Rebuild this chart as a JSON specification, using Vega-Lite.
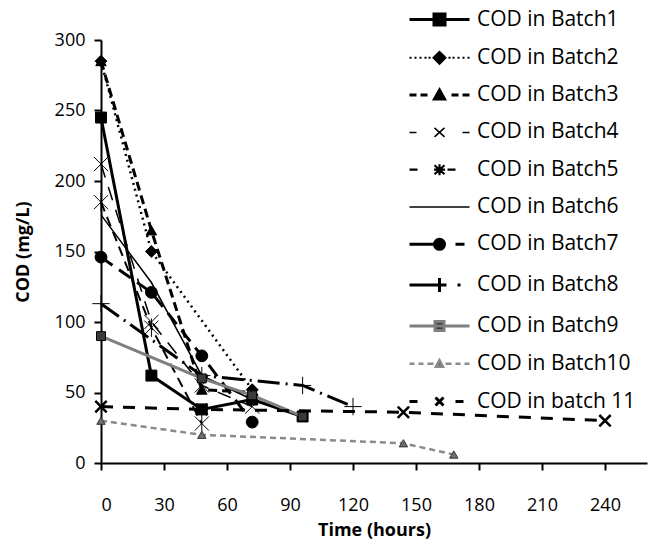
{
  "$schema": "https://vega.github.io/schema/vega-lite/v6.json",
  "width": 546,
  "height": 423,
  "autosize": "none",
  "padding": {"left": 101, "top": 40, "right": 2, "bottom": 81},
  "background": "white",
  "config": {
    "font": "Open Sans",
    "view": {"stroke": null},
    "axis": {"domainColor": "black", "domainWidth": 2, "tickColor": "black", "tickWidth": 2, "tickSize": 7, "labelColor": "black", "titleColor": "black", "grid": false, "labelFontSize": 18, "titleFontSize": 18, "titleFontWeight": "bold", "labelFont": "Open Sans", "titleFont": "Open Sans"},
    "legend": {"orient": "none", "legendX": 309, "legendY": -32, "symbolSize": 400, "labelFontSize": 21, "labelFont": "Open Sans", "labelColor": "black", "rowPadding": 15.8, "symbolOffset": 18, "labelOffset": 26, "padding": 0, "symbolOpacity": 1}
  },
  "datasets": {
    "cod": [
      {"batch": "COD in Batch1", "t": 0, "cod": 245},
      {"batch": "COD in Batch1", "t": 24, "cod": 62},
      {"batch": "COD in Batch1", "t": 48, "cod": 38},
      {"batch": "COD in Batch1", "t": 72, "cod": 45},
      {"batch": "COD in Batch1", "t": 96, "cod": 33},
      {"batch": "COD in Batch2", "t": 0, "cod": 285},
      {"batch": "COD in Batch2", "t": 24, "cod": 150},
      {"batch": "COD in Batch2", "t": 72, "cod": 52},
      {"batch": "COD in Batch3", "t": 0, "cod": 285},
      {"batch": "COD in Batch3", "t": 24, "cod": 165},
      {"batch": "COD in Batch3", "t": 48, "cod": 52},
      {"batch": "COD in Batch3", "t": 72, "cod": 50},
      {"batch": "COD in Batch4", "t": 0, "cod": 212},
      {"batch": "COD in Batch4", "t": 24, "cod": 100},
      {"batch": "COD in Batch4", "t": 48, "cod": 55},
      {"batch": "COD in Batch4", "t": 72, "cod": 40},
      {"batch": "COD in Batch5", "t": 0, "cod": 185},
      {"batch": "COD in Batch5", "t": 24, "cod": 96},
      {"batch": "COD in Batch5", "t": 48, "cod": 28},
      {"batch": "COD in Batch6", "t": 0, "cod": 176},
      {"batch": "COD in Batch6", "t": 24, "cod": 128},
      {"batch": "COD in Batch6", "t": 48, "cod": 62},
      {"batch": "COD in Batch6", "t": 72, "cod": 45},
      {"batch": "COD in Batch7", "t": 0, "cod": 146},
      {"batch": "COD in Batch7", "t": 24, "cod": 121},
      {"batch": "COD in Batch7", "t": 48, "cod": 76},
      {"batch": "COD in Batch7", "t": 72, "cod": 29},
      {"batch": "COD in Batch8", "t": 0, "cod": 113},
      {"batch": "COD in Batch8", "t": 48, "cod": 62},
      {"batch": "COD in Batch8", "t": 96, "cod": 55},
      {"batch": "COD in Batch8", "t": 120, "cod": 40},
      {"batch": "COD in Batch9", "t": 0, "cod": 90},
      {"batch": "COD in Batch9", "t": 48, "cod": 60},
      {"batch": "COD in Batch9", "t": 72, "cod": 48},
      {"batch": "COD in Batch9", "t": 96, "cod": 33},
      {"batch": "COD in Batch10", "t": 0, "cod": 30},
      {"batch": "COD in Batch10", "t": 48, "cod": 20},
      {"batch": "COD in Batch10", "t": 144, "cod": 14},
      {"batch": "COD in Batch10", "t": 168, "cod": 6},
      {"batch": "COD in batch 11", "t": 0, "cod": 40},
      {"batch": "COD in batch 11", "t": 48, "cod": 38},
      {"batch": "COD in batch 11", "t": 144, "cod": 36},
      {"batch": "COD in batch 11", "t": 240, "cod": 30}
    ]
  },
  "data": {"name": "cod"},
  "encoding": {
    "x": {"field": "t", "type": "quantitative", "scale": {"domain": [0, 260], "nice": false}, "axis": {"values": [0, 30, 60, 90, 120, 150, 180, 210, 240], "title": "Time (hours)", "labelPadding": 26, "titlePadding": 7}},
    "y": {"field": "cod", "type": "quantitative", "scale": {"domain": [0, 300], "nice": false}, "axis": {"values": [0, 50, 100, 150, 200, 250, 300], "title": "COD (mg/L)", "labelPadding": 9, "titlePadding": 22}}
  },
  "layer": [
    {
      "transform": [{"filter": {"field": "batch", "equal": "COD in Batch1"}}],
      "mark": {"type": "line", "stroke": "black", "strokeWidth": 3, "point": {"shape": "square", "filled": true, "size": 120, "fill": "black", "stroke": "black", "strokeWidth": 1}}
    },
    {
      "transform": [{"filter": {"field": "batch", "equal": "COD in Batch2"}}],
      "mark": {"type": "line", "stroke": "black", "strokeWidth": 2.5, "strokeDash": [2, 4], "point": {"shape": "diamond", "filled": true, "size": 140, "fill": "black", "stroke": "black", "strokeWidth": 1}}
    },
    {
      "transform": [{"filter": {"field": "batch", "equal": "COD in Batch3"}}],
      "mark": {"type": "line", "stroke": "black", "strokeWidth": 3, "strokeDash": [9, 5], "point": {"shape": "triangle-up", "filled": true, "size": 110, "fill": "black", "stroke": "black", "strokeWidth": 1}}
    },
    {
      "transform": [{"filter": {"field": "batch", "equal": "COD in Batch4"}}],
      "mark": {"type": "line", "stroke": "black", "strokeWidth": 1.5, "strokeDash": [14, 10], "point": {"shape": "M-1,-1L1,1M-1,1L1,-1", "filled": false, "size": 200, "stroke": "black", "strokeWidth": 1}}
    },
    {
      "transform": [{"filter": {"field": "batch", "equal": "COD in Batch5"}}],
      "mark": {"type": "line", "stroke": "black", "strokeWidth": 2, "strokeDash": [10, 6], "point": {"shape": "M-1,-1L1,1M-1,1L1,-1M0,-1.3V1.3", "filled": false, "size": 200, "stroke": "black", "strokeWidth": 1}}
    },
    {
      "transform": [{"filter": {"field": "batch", "equal": "COD in Batch6"}}],
      "mark": {"type": "line", "stroke": "black", "strokeWidth": 1.5}
    },
    {
      "transform": [{"filter": {"field": "batch", "equal": "COD in Batch7"}}],
      "mark": {"type": "line", "stroke": "black", "strokeWidth": 3, "strokeDash": [14, 8], "point": {"shape": "circle", "filled": true, "size": 140, "fill": "black", "stroke": "black", "strokeWidth": 1}}
    },
    {
      "transform": [{"filter": {"field": "batch", "equal": "COD in Batch8"}}],
      "mark": {"type": "line", "stroke": "black", "strokeWidth": 3, "strokeDash": [22, 6, 2, 6], "point": {"shape": "M0,-1V1M-1,0H1", "filled": false, "size": 300, "stroke": "black", "strokeWidth": 1}}
    },
    {
      "transform": [{"filter": {"field": "batch", "equal": "COD in Batch9"}}],
      "mark": {"type": "line", "stroke": "#7f7f7f", "strokeWidth": 3, "point": {"shape": "square", "filled": true, "size": 80, "fill": "#3a3a3a", "stroke": "black", "strokeWidth": 1}}
    },
    {
      "transform": [{"filter": {"field": "batch", "equal": "COD in Batch10"}}],
      "mark": {"type": "line", "stroke": "#8a8a8a", "strokeWidth": 2.5, "strokeDash": [6, 4], "point": {"shape": "triangle-up", "filled": true, "size": 70, "fill": "#6e6e6e", "stroke": "#333333", "strokeWidth": 1}}
    },
    {
      "transform": [{"filter": {"field": "batch", "equal": "COD in batch 11"}}],
      "mark": {"type": "line", "stroke": "black", "strokeWidth": 3, "strokeDash": [12, 10], "point": {"shape": "M-1,-1L1,1M-1,1L1,-1", "filled": false, "size": 130, "stroke": "black", "strokeWidth": 2.5}}
    },
    {
      "transform": [{"filter": "datum.t == 0"}],
      "mark": {"type": "point", "filled": true, "opacity": 0},
      "encoding": {
        "shape": {"field": "batch", "type": "nominal", "title": null, "scale": {"domain": ["COD in Batch1", "COD in Batch2", "COD in Batch3", "COD in Batch4", "COD in Batch5", "COD in Batch6", "COD in Batch7", "COD in Batch8", "COD in Batch9", "COD in Batch10", "COD in batch 11"], "range": [
          "M-3,0H3M-0.55,-0.55H0.55V0.55H-0.55Z",
          "M-3,0H-2.8M-2.5,0H-2.3M-2,0H-1.8M-1.5,0H-1.3M-1.1,0H-0.9M-0.6,0L0,-0.6L0.6,0L0,0.6ZM0.9,0H1.1M1.3,0H1.5M1.8,0H2M2.3,0H2.5M2.8,0H3",
          "M-3,0H-2.3M-1.9,0H-1.2M-0.5,0.4L0,-0.5L0.5,0.4ZM1.2,0H1.9M2.3,0H3",
          "M-3,0H-2.3M-0.5,-0.45L0.5,0.45M-0.5,0.45L0.5,-0.45M2.3,0H3",
          "M-3,0H-2.2M-0.5,-0.45L0.5,0.45M-0.5,0.45L0.5,-0.45M0,-0.55V0.55M-0.55,0H0.55M0.8,0H1.6",
          "M-3,0H3",
          "M-3,0H-0.5M-0.5,0A0.5,0.5,0,1,0,0.5,0A0.5,0.5,0,1,0,-0.5,0ZM1.6,0H2.5",
          "M-3,0H-0.3M0,-0.7V0.7M-0.7,0H0.7M1.8,0H2.1",
          "M-3,0H3M-0.45,-0.45H0.45V0.45H-0.45Z",
          "M-3,0H-2.5M-2.1,0H-1.6M-1.2,0H-0.6M-0.35,0.3L0,-0.35L0.35,0.3ZM0.6,0H1.2M1.6,0H2.1M2.5,0H3",
          "M-3,0H-2.2M-0.4,-0.4L0.4,0.4M-0.4,0.4L0.4,-0.4M1.6,0H2.4"
        ]}},
        "fill": {"field": "batch", "type": "nominal", "title": null, "scale": {"domain": ["COD in Batch1", "COD in Batch2", "COD in Batch3", "COD in Batch4", "COD in Batch5", "COD in Batch6", "COD in Batch7", "COD in Batch8", "COD in Batch9", "COD in Batch10", "COD in batch 11"], "range": ["#000000", "#000000", "#000000", "#000000", "#000000", "#000000", "#000000", "#000000", "#3a3a3a", "#6e6e6e", "#000000"]}},
        "stroke": {"field": "batch", "type": "nominal", "title": null, "scale": {"domain": ["COD in Batch1", "COD in Batch2", "COD in Batch3", "COD in Batch4", "COD in Batch5", "COD in Batch6", "COD in Batch7", "COD in Batch8", "COD in Batch9", "COD in Batch10", "COD in batch 11"], "range": ["#000000", "#000000", "#000000", "#000000", "#000000", "#000000", "#000000", "#000000", "#7f7f7f", "#8a8a8a", "#000000"]}},
        "strokeWidth": {"field": "batch", "type": "nominal", "title": null, "scale": {"type": "ordinal", "domain": ["COD in Batch1", "COD in Batch2", "COD in Batch3", "COD in Batch4", "COD in Batch5", "COD in Batch6", "COD in Batch7", "COD in Batch8", "COD in Batch9", "COD in Batch10", "COD in batch 11"], "range": [3, 2, 3, 1.5, 2.2, 1.5, 3, 3, 3, 2.5, 3]}}
      }
    }
  ]
}
